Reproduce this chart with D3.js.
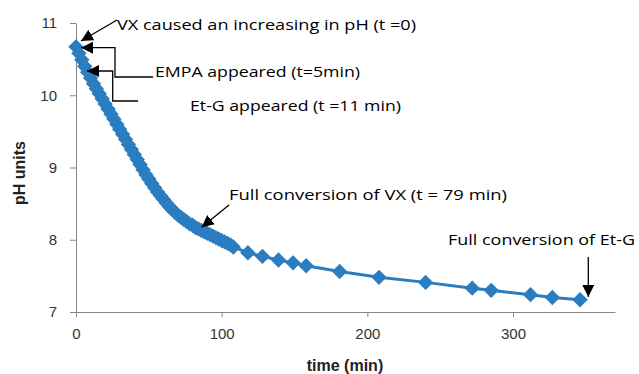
<!DOCTYPE html>
<html>
<head>
<meta charset="utf-8">
<script src="https://cdn.jsdelivr.net/npm/d3@7"></script>
<style>
  body { margin: 0; background: #fff; }
  .tick text { font-family: "Liberation Sans", Arial, sans-serif; font-size: 15px; fill: #333; }
  .note { font-family: "Comic Sans MS", "Open Sans", sans-serif; font-size: 15px; fill: #000; }
</style>
</head>
<body>
<div id="chart"></div>
<script>
// time (min) and pH readings
const times = [0, 2, 4, 6, 8, 10, 12, 14, 16, 18, 20, 22, 24, 26, 28, 30, 32, 34, 36, 38,
  40, 42, 44, 46, 48, 50, 52, 54, 56, 58, 60, 62, 64, 66, 68, 70, 72, 74, 76, 78,
  80, 82, 84, 86, 88, 90, 92, 94, 96, 98, 100, 102, 104, 106, 108,
  118, 128, 139, 149, 158, 181, 208, 240, 272, 285, 312, 327, 346];
const phValues = [10.67, 10.58, 10.49, 10.40, 10.32, 10.24, 10.16, 10.09, 10.02, 9.95, 9.88, 9.81, 9.74, 9.67, 9.60, 9.53, 9.46, 9.39, 9.32, 9.25,
  9.18, 9.11, 9.04, 8.97, 8.90, 8.84, 8.78, 8.72, 8.66, 8.61, 8.56, 8.51, 8.46, 8.42, 8.38, 8.34, 8.31, 8.28, 8.25, 8.22,
  8.20, 8.17, 8.15, 8.13, 8.11, 8.09, 8.07, 8.05, 8.03, 8.01, 7.99, 7.97, 7.95, 7.93, 7.90,
  7.82, 7.77, 7.72, 7.68, 7.64, 7.56, 7.48, 7.41, 7.33, 7.30, 7.24, 7.20, 7.17];
const xTicks = [0, 100, 200, 300];
const yTicks = [7, 8, 9, 10, 11];

const data = times.map((t, i) => ({ t: t, ph: phValues[i] }));

const W = 639, H = 374;
const margin = { top: 23, right: 24, bottom: 62, left: 76 };
const width = W - margin.left - margin.right;
const height = H - margin.top - margin.bottom;

const svg = d3.select("#chart").append("svg")
  .attr("width", W)
  .attr("height", H);

const defs = svg.append("defs");
defs.append("marker")
  .attr("id", "arrow")
  .attr("viewBox", "0 0 10 10")
  .attr("refX", 10).attr("refY", 5)
  .attr("markerWidth", 12).attr("markerHeight", 12)
  .attr("markerUnits", "userSpaceOnUse")
  .attr("orient", "auto")
  .append("path")
  .attr("d", "M0,0 L10,5 L0,10 Z")
  .attr("fill", "#000");

const g = svg.append("g").attr("transform", `translate(${margin.left},${margin.top})`);

const x = d3.scaleLinear().domain([0, 370]).range([0, width]);
const y = d3.scaleLinear().domain([7, 11]).range([height, 0]);

// axes
const xAxis = g.append("g")
  .attr("transform", `translate(0,${height})`)
  .call(d3.axisBottom(x).tickValues(xTicks).tickSize(5).tickPadding(11).tickSizeOuter(0));
const yAxis = g.append("g")
  .call(d3.axisLeft(y).tickValues(yTicks).tickFormat(d3.format("d")).tickSize(6).tickPadding(13).tickSizeOuter(0));
[xAxis, yAxis].forEach(a => {
  a.select(".domain").attr("stroke", "#868686");
  a.selectAll(".tick line").attr("stroke", "#868686");
});

// axis titles
svg.append("text")
  .attr("x", 345).attr("y", 371)
  .attr("text-anchor", "middle")
  .style("font-family", "Liberation Sans, Arial, sans-serif")
  .style("font-size", "16px").style("font-weight", "bold").style("fill", "#222")
  .text("time (min)");
svg.append("text")
  .attr("transform", "translate(25,173) rotate(-90)")
  .attr("text-anchor", "middle")
  .style("font-family", "Liberation Sans, Arial, sans-serif")
  .style("font-size", "16px").style("font-weight", "bold").style("fill", "#222")
  .text("pH units");

const blue = "#2a7dc0";

// line + diamond markers
g.append("path")
  .datum(data)
  .attr("fill", "none")
  .attr("stroke", blue)
  .attr("stroke-width", 3)
  .attr("d", d3.line().x(d => x(d.t)).y(d => y(d.ph)));

const diamond = d3.symbol().type(d3.symbolSquare).size(118);
g.selectAll(".pt")
  .data(data)
  .enter().append("path")
  .attr("class", "pt")
  .attr("d", diamond)
  .attr("transform", d => `translate(${x(d.t)},${y(d.ph)}) rotate(45)`)
  .attr("fill", blue);

// annotations
const notes = [
  { text: "VX caused an increasing in pH (t =0)", x: 117, y: 30, len: 299 },
  { text: "EMPA appeared (t=5min)", x: 155, y: 77, len: 205 },
  { text: "Et-G appeared (t =11 min)", x: 190, y: 111, len: 211 },
  { text: "Full conversion of VX (t = 79 min)", x: 229, y: 200, len: 278 },
  { text: "Full conversion of Et-G", x: 448, y: 245, len: 187 }
];
svg.selectAll(".note")
  .data(notes)
  .enter().append("text")
  .attr("class", "note")
  .attr("x", d => d.x).attr("y", d => d.y)
  .attr("textLength", d => d.len)
  .attr("lengthAdjust", "spacingAndGlyphs")
  .text(d => d.text);

const arrows = [
  "M117,20 L81,41",
  "M153,77 L115,77 L115,47.7 L81,47.7",
  "M138,101 L112.7,101 L112.7,71 L87,71",
  "M229,205 L201.7,227.3",
  "M588.3,257 L588.3,297"
];
svg.selectAll(".arrow")
  .data(arrows)
  .enter().append("path")
  .attr("class", "arrow")
  .attr("d", d => d)
  .attr("fill", "none")
  .attr("stroke", "#000")
  .attr("stroke-width", 1.3)
  .attr("marker-end", "url(#arrow)");
</script>
</body>
</html>
